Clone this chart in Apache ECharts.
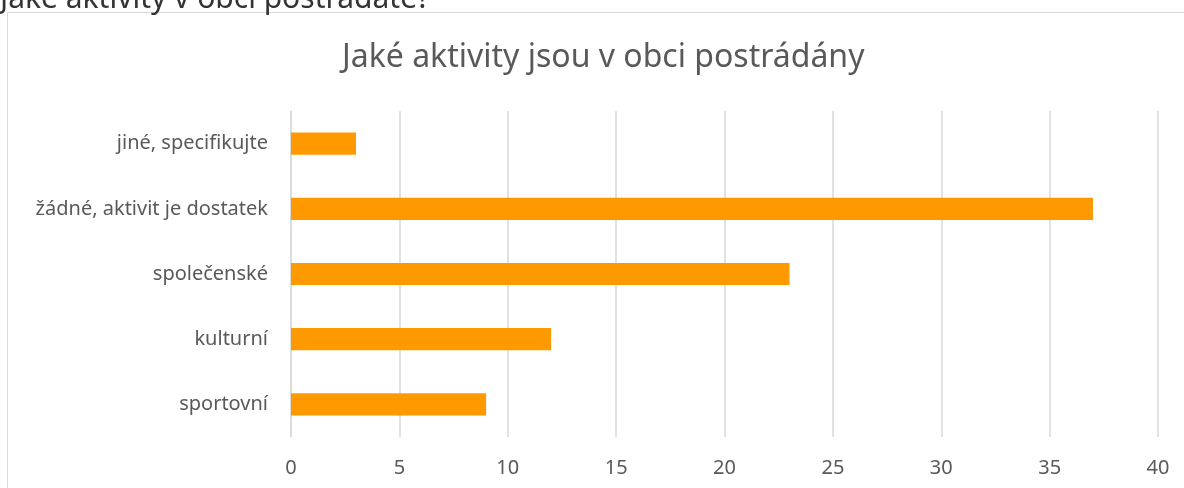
<!DOCTYPE html>
<html>
<head>
<meta charset="utf-8">
<script src="https://cdn.jsdelivr.net/npm/echarts@6/dist/echarts.min.js"></script>
<style>
  html, body { margin: 0; padding: 0; background: #fff; }
  #chart { width: 1184px; height: 488px; }
</style>
</head>
<body>
<div id="chart"></div>
<script>
const categories = ['sportovní', 'kulturní', 'společenské', 'žádné, aktivit je dostatek', 'jiné, specifikujte']
const counts = [9, 12, 23, 37, 3]
const xTicks = [0, 5, 10, 15, 20, 25, 30, 35, 40]

const font = 'Noto Sans'
const chart = echarts.init(document.getElementById('chart'))

chart.setOption({
  animation: false,
  textStyle: { fontFamily: font },
  graphic: [
    {
      type: 'rect',
      shape: { x: 7.5, y: 12.5, width: 1200, height: 500 },
      style: { fill: 'none', stroke: '#d9d9d9', lineWidth: 1 }
    },
    {
      // heading of the page above the chart, mostly cut off
      type: 'text',
      x: 0,
      y: 14,
      style: {
        text: 'Jaké aktivity v obci postrádáte?',
        font: '30px Noto Sans',
        fill: '#333333',
        verticalAlign: 'bottom'
      }
    }
  ],
  title: {
    text: 'Jaké aktivity jsou v obci postrádány',
    left: 337,
    top: 37,
    textStyle: { fontSize: 32, fontWeight: 'normal', color: '#595959', fontFamily: font }
  },
  grid: { left: 291, right: 26, top: 111, bottom: 51 },
  xAxis: {
    type: 'value',
    min: 0,
    max: 40,
    interval: 5,
    axisLine: { show: false },
    axisTick: { show: false },
    axisLabel: { color: '#595959', fontSize: 20, margin: 21, fontFamily: font,
      formatter: v => xTicks.includes(v) ? String(v) : '' },
    splitLine: { lineStyle: { color: '#d9d9d9', width: 1.5 } }
  },
  yAxis: {
    type: 'category',
    data: categories,
    axisLine: { show: true, lineStyle: { color: '#d9d9d9', width: 1.5 } },
    axisTick: { show: false },
    axisLabel: { color: '#595959', fontSize: 20, margin: 23, fontFamily: font }
  },
  series: [{
    type: 'bar',
    data: counts,
    barWidth: '34%',
    itemStyle: { color: '#ff9900' }
  }]
})
</script>
</body>
</html>
